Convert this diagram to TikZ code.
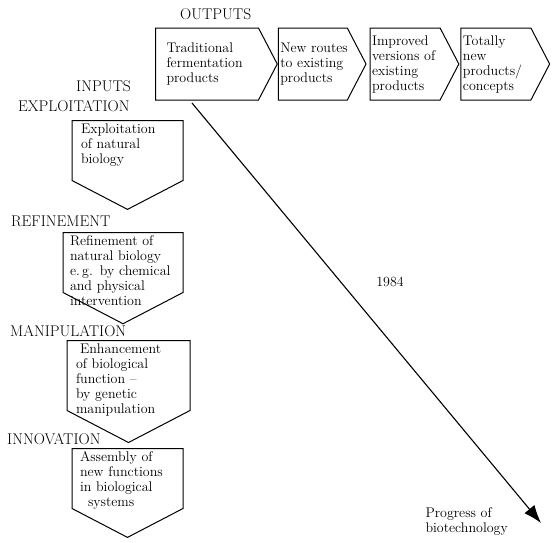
\documentclass[tikz,border=0pt]{standalone}
\usepackage{tikz}
\usetikzlibrary{shapes.symbols,arrows.meta,positioning}

\begin{document}
\begin{tikzpicture}[
    x=1pt, y=-1pt,
    outbox/.style={signal, signal to=east, signal pointer angle=125, draw, line width=1pt, minimum height=72pt, align=left, inner xsep=2pt, font=\fontsize{14}{15}\selectfont},
    inbox/.style={signal, signal to=south, signal pointer angle=125, draw, line width=1pt, anchor=north, align=left, inner xsep=9pt, inner ysep=3pt, text height=10pt, text depth=44pt, font=\fontsize{14}{15}\selectfont},
    head/.style={anchor=west, inner sep=0pt, font=\fontsize{15.5}{17}\selectfont},
    lbl/.style={align=left, inner sep=0pt, font=\fontsize{14}{15}\selectfont},
    arrow/.style={-{Latex[length=18pt,width=13pt]}, line width=1.1pt}
]
\useasboundingbox (0,0) rectangle (555,542);

\node[outbox, text width=81pt, inner xsep=11pt, anchor=west] (o1) at (155,64) {Traditional\\fermentation\\products};
\node[outbox, text width=65pt, right=0pt of o1] (o2) {New~routes\\to existing\\products};
\node[outbox, text width=66pt, right=3pt of o2] (o3) {Improved\\versions of\\existing\\products};
\node[outbox, text width=66pt, right=1pt of o3] (o4) {Totally\\new\\products/\\concepts};

\node[head] (outputs) at (180,14) {OUTPUTS};
\node[head] (inputs) at (76,86) {INPUTS};
\node[head] (exploit) at (18,106) {EXPLOITATION};
\node[head] (refine) at (11,221) {REFINEMENT};
\node[head] (manip) at (10,331) {MANIPULATION};
\node[head] (innov) at (7,439) {INNOVATION};

\node[inbox, text width=93pt] (i1) at (127.5,120) {Exploitation\\of natural\\biology};
\node[inbox, text width=106pt, inner xsep=7pt] (i2) at (123,232) {Refinement of\\natural biology\\e.\,g. by chemical\\and physical\\intervention};
\node[inbox, text width=105pt, inner xsep=9pt, text depth=54pt] (i3) at (128.5,340) {\hspace*{4pt}Enhancement\\of biological\\function --\\by genetic\\manipulation};
\node[inbox, text width=95pt, inner xsep=8pt] (i4) at (127.5,448) {Assembly of\\new functions\\in biological\\\hspace*{8pt}systems};

\coordinate (start) at (192,103);
\coordinate (tip) at (541,523);
\node[lbl] (year) at (390,282) {1984};
\node[lbl, anchor=east] (progress) at (508,521) {Progress of\\biotechnology};

\draw[arrow] (start) -- (tip);
\end{tikzpicture}
\end{document}
